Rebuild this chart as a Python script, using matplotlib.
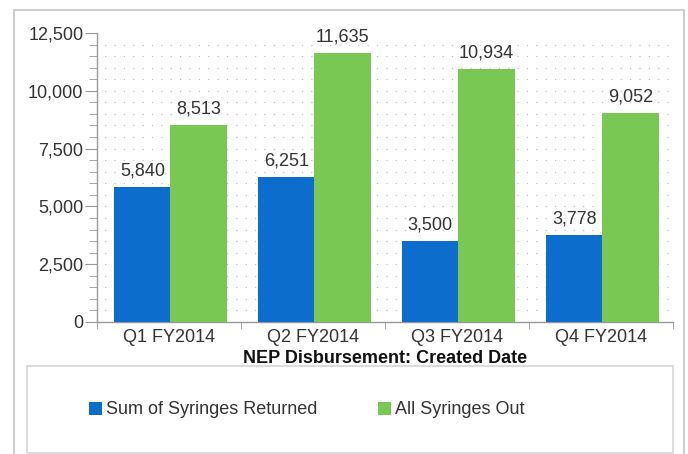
import matplotlib
matplotlib.use("Agg")
import matplotlib.pyplot as plt
from matplotlib.patches import Rectangle
from matplotlib.ticker import FuncFormatter, MultipleLocator, FixedLocator
import numpy as np

categories = ["Q1 FY2014", "Q2 FY2014", "Q3 FY2014", "Q4 FY2014"]
returned = [5840, 6251, 3500, 3778]
syringes_out = [8513, 11635, 10934, 9052]
series_names = ["Sum of Syringes Returned", "All Syringes Out"]
y_ticks = [0, 2500, 5000, 7500, 10000, 12500]
x_label = "NEP Disbursement: Created Date"

BLUE = "#0c6dcd"
GREEN = "#78c853"
TXT = "#333333"
AX = "#999999"
FS = 13

plt.rcParams['font.family'] = ['Liberation Sans', 'DejaVu Sans']

W, H = 688, 454
fig = plt.figure(figsize=(W / 100, H / 100), dpi=100)

def fx(px):
    return px / W

def fy(py):
    return 1 - py / H

# outer frame
fig.patches.append(Rectangle((fx(14), fy(460)), fx(684) - fx(14), fy(10) - fy(460),
                             transform=fig.transFigure, fill=False,
                             edgecolor="#cfcfcf", lw=1.5, zorder=0))
# legend box
fig.patches.append(Rectangle((fx(27), fy(453)), fx(673) - fx(27), fy(366) - fy(453),
                             transform=fig.transFigure, fill=False,
                             edgecolor="#d6d6d6", lw=1.2, zorder=0))

ax = fig.add_axes([fx(97), fy(322), fx(673) - fx(97), fy(33) - fy(322)])
x = np.arange(len(categories))
bw = 0.39
b1 = ax.bar(x - bw / 2 + 0.01, returned, bw, color=BLUE, zorder=3, label=series_names[0])
b2 = ax.bar(x + bw / 2 + 0.01, syringes_out, bw, color=GREEN, zorder=3, label=series_names[1])

for bars, vals in ((b1, returned), (b2, syringes_out)):
    for r, v in zip(bars, vals):
        ax.annotate(f"{v:,}", (r.get_x() + r.get_width() / 2, v), xytext=(0, 5.5),
                    textcoords="offset points", ha="center", va="bottom",
                    fontsize=FS, color=TXT)

ax.set_xlim(-0.5, len(categories) - 0.5)
ax.set_ylim(0, 12500)

# dot grid
for yv in np.arange(500, 12500, 500):
    ax.axhline(yv, color="#c4c4c4", lw=0.9, linestyle=(1.5, (1, 6.5)), zorder=1)

ax.yaxis.set_major_locator(FixedLocator(y_ticks))
ax.yaxis.set_minor_locator(MultipleLocator(500))
ax.yaxis.set_major_formatter(FuncFormatter(lambda v, p: f"{int(v):,}"))
ax.tick_params(axis="y", which="major", length=9, color=AX, labelsize=FS,
               labelcolor=TXT, pad=0.8)
ax.tick_params(axis="y", which="minor", length=6, color=AX)

ax.set_xticks(x)
ax.set_xticklabels(categories)
ax.xaxis.set_minor_locator(FixedLocator(np.arange(-0.5, len(categories), 1.0)))
ax.tick_params(axis="x", which="major", length=0, labelsize=FS, labelcolor=TXT, pad=5)
ax.tick_params(axis="x", which="minor", length=5, color=AX)

for s in ("top", "right"):
    ax.spines[s].set_visible(False)
for s in ("left", "bottom"):
    ax.spines[s].set_color(AX)
    ax.spines[s].set_linewidth(1.0)

ax.set_xlabel(x_label, fontsize=FS, fontweight="bold", color="#111111", labelpad=3)

leg = fig.legend(handles=[b1, b2], labels=series_names, loc="center left",
                 bbox_to_anchor=(fx(89), fy(410)), ncol=2, frameon=False,
                 fontsize=FS, handlelength=0.72, handleheight=0.72,
                 handletextpad=0.2, columnspacing=3.4, borderpad=0, borderaxespad=0)
for t in leg.get_texts():
    t.set_color(TXT)

fig.savefig("out.png", dpi=100)
